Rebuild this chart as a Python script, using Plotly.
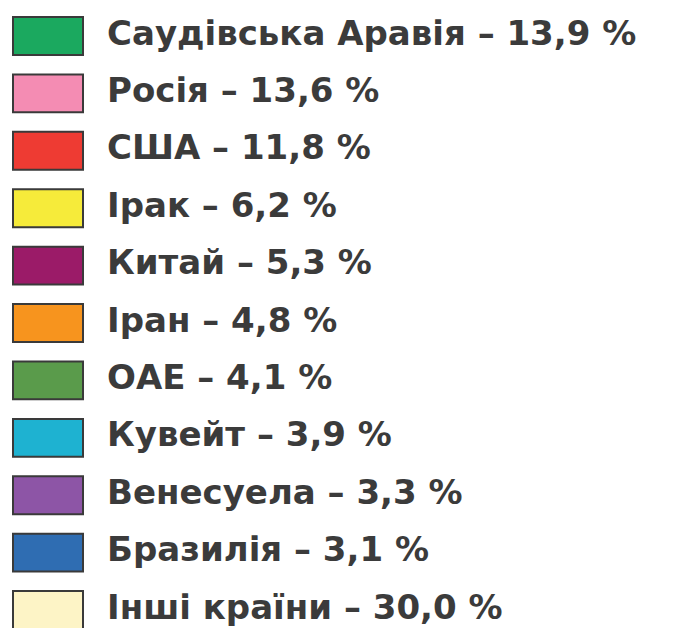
import plotly.graph_objects as go

# Частка країн у світовому видобутку нафти
countries = ["Саудівська Аравія", "Росія", "США", "Ірак", "Китай", "Іран",
             "ОАЕ", "Кувейт", "Венесуела", "Бразилія", "Інші країни"]
shares = ["13,9", "13,6", "11,8", "6,2", "5,3", "4,8", "4,1", "3,9", "3,3", "3,1", "30,0"]
colors = ["#1ba95f", "#f48cb3", "#ee3b33", "#f6eb3a", "#9b1b68", "#f7941e",
          "#5a9b4b", "#1eb2d1", "#8d55a6", "#2f6db2", "#fdf4c6"]

rows = list(range(len(countries)))
labels = [f"{c} – {s} %" for c, s in zip(countries, shares)]

fig = go.Figure()

# кольорові прямокутники легенди
fig.add_trace(go.Bar(
    y=rows,
    x=[70] * len(rows),
    base=5,
    orientation="h",
    width=0.66,
    marker=dict(color=colors, line=dict(color="#3a3a3a", width=2)),
    hoverinfo="skip",
))

# підписи
fig.add_trace(go.Scatter(
    y=rows,
    x=[99] * len(rows),
    mode="text",
    text=labels,
    textposition="middle right",
    textfont=dict(family="DejaVu Sans", size=34, color="#3b3b3b", weight=600),
    hoverinfo="skip",
))

# сторінка має відступ 8 px, тому фігура трохи менша за вікно
fig.update_layout(
    width=678, height=620,
    margin=dict(l=0, r=0, t=0, b=0),
    paper_bgcolor="white", plot_bgcolor="white",
    showlegend=False,
    xaxis=dict(range=[0, 678], visible=False, fixedrange=True),
    yaxis=dict(range=[10.313, -0.488], visible=False, fixedrange=True),
)

fig.write_html("out.html")
